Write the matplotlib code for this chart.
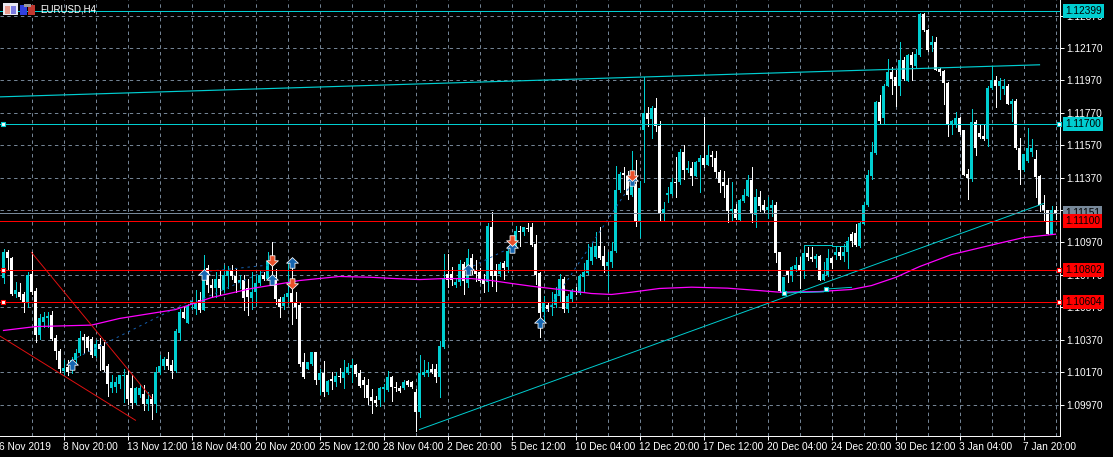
import matplotlib
matplotlib.use("Agg")
import matplotlib.pyplot as plt
from matplotlib.patches import Rectangle
import numpy as np

# candle values are points above 1.09000 (1 point = 0.00001)
base = 1.09

kinds = "".join([
    "TWWTWWTWWT", "TTWWWTWTTT", "WWWTWWWTTT", "TWWTTWTWTT", "TWWTTWTTTW",
    "TWWTWTTWWT", "WWTTTWTWWW", "TTWWWWTTWT", "WTWTWTTTWW", "WWWWTTTWWW",
    "TWWWTTTWWT", "TWWTTWTWWW", "WTWWTWTTTW", "TWWWWTWTTT", "WTTWTTTTTW",
    "WTTTTWWTWT", "TWTWWTTTWT", "WTWTTWTWWW", "WWTWTTTWTW", "WTTWWTWTTW",
    "TWWTWTTWTW", "TTWWTTTTTW", "TTWWTWTWTT", "WWTWWWWTTW", "WWTWWWTTWT",
    "TWTWWTTTWW", "WWTW"])

body_top = [
    1908,1908,1875,1675,1665,1649,1772,1778,1671,1501,
    1511,1517,1521,1381,1303,1196,1202,1243,1291,1381,
    1387,1387,1373,1346,1346,1332,1208,1106,1106,1151,
    1151,1151,1075,1073,1069,1038,1007,1007,1171,1208,
    1250,1250,1217,1422,1538,1538,1579,1608,1603,1614,
    1789,1813,1710,1747,1747,1768,1799,1799,1762,1741,
    1737,1686,1665,1717,1772,1772,1856,1861,1758,1624,
    1634,1661,1661,1599,1587,1235,1231,1293,1293,1163,
    1163,1118,1128,1143,1143,1173,1200,1217,1214,1163,
    1124,1093,1019,1000,1070,1081,1138,1138,1081,1073,
    1112,1118,1108,1046,1163,1173,1180,1190,1190,1330,
    1745,1776,1776,1729,1834,1834,1875,1875,1797,1790,
    1739,2070,2068,1797,1838,1842,1920,1951,2043,2043,
    2064,2060,2064,1961,1780,1601,1587,1587,1653,1745,
    1745,1638,1669,1673,1766,1786,1862,1941,1951,1951,
    1889,1852,1919,2296,2393,2397,2382,2331,2331,2306,
    2767,2767,2798,2798,2691,2177,2275,2345,2345,2530,
    2530,2432,2432,2469,2491,2491,2512,2512,2489,2407,
    2345,2327,2177,2177,2232,2265,2358,2358,2249,2249,
    2203,2191,2203,2203,1913,1755,1796,1817,1833,1833,
    1905,1905,1882,1889,1889,1776,1874,1874,1909,1909,
    1913,1981,2023,2027,2089,2204,2383,2531,2836,2836,
    2938,3021,3021,2990,3097,3097,3124,3124,3130,3377,
    3377,3282,3204,3204,3037,3027,2955,2722,2735,2735,
    2661,2393,2716,2716,2644,2624,2924,2975,2975,2965,
    2932,2932,2840,2840,2552,2513,2554,2554,2486,2379,
    2198,2173,2173,2173]

body_bot = [
    1752,1871,1649,1655,1634,1603,1603,1665,1402,1398,
    1480,1505,1377,1299,1188,1176,1171,1182,1243,1285,
    1367,1320,1274,1270,1315,1182,1099,1069,1079,1099,
    1147,1007,982,982,1027,976,976,976,976,1171,
    1208,1208,1176,1176,1414,1505,1476,1593,1558,1556,
    1556,1706,1686,1686,1686,1675,1764,1764,1717,1717,
    1630,1634,1630,1665,1717,1747,1743,1830,1620,1573,
    1579,1634,1603,1573,1223,1138,1190,1221,1124,1124,
    1046,1046,1114,1112,1138,1134,1165,1196,1159,1087,
    1093,1011,994,980,1000,1066,1062,1077,1070,1052,
    1073,1093,1077,922,922,1153,1163,1169,1138,1138,
    1323,1739,1741,1708,1725,1735,1720,1797,1776,1735,
    1714,1725,1766,1766,1776,1813,1821,1920,1951,2033,
    2033,2052,1957,1772,1535,1539,1560,1574,1581,1642,
    1560,1560,1618,1663,1659,1755,1780,1858,1883,1875,
    1827,1827,1847,1915,2294,2389,2265,2265,2098,2098,
    2666,2732,2732,2687,2150,2150,2265,2269,2339,2341,
    2419,2419,2382,2382,2465,2450,2450,2495,2403,2339,
    2321,2162,2162,2119,2111,2228,2259,2146,2142,2193,
    2173,2173,2183,1903,1669,1669,1771,1771,1806,1800,
    1800,1878,1868,1868,1741,1741,1771,1843,1895,1889,
    1889,1909,1978,1957,1945,2085,2198,2377,2523,2722,
    2739,2934,2980,2938,2938,2980,2969,3062,3056,3124,
    3278,3159,3185,3035,3019,2953,2698,2698,2692,2650,
    2389,2369,2363,2552,2620,2609,2609,2920,2938,2932,
    2918,2821,2821,2552,2414,2414,2472,2527,2373,2198,
    2171,2023,2023,2151]

highs = [
    1928,1922,1881,1727,1717,1665,1789,1908,1686,1531,
    1542,1542,1546,1398,1315,1243,1243,1264,1315,1422,
    1408,1394,1387,1367,1381,1357,1223,1151,1141,1155,
    1188,1182,1151,1079,1099,1089,1048,1038,1202,1274,
    1264,1295,1243,1439,1562,1573,1593,1614,1675,1665,
    1891,1830,1747,1789,1799,1830,1826,1830,1809,1768,
    1768,1747,1789,1778,1799,1789,1912,1970,1809,1634,
    1655,1850,1830,1665,1599,1289,1235,1297,1293,1190,
    1241,1124,1169,1169,1196,1245,1225,1252,1221,1180,
    1138,1128,1066,1025,1077,1097,1175,1149,1108,1087,
    1124,1124,1118,1066,1278,1245,1231,1221,1221,1365,
    1899,1899,1821,1745,1862,1848,1930,1899,1862,1813,
    1776,2089,2157,1838,1848,1858,1930,2002,2074,2074,
    2068,2089,2089,2013,1786,1642,1601,1663,1694,1776,
    1755,1653,1683,1694,1776,1842,1961,1971,2033,2064,
    1950,1909,1971,2444,2403,2438,2413,2537,2481,2351,
    2989,2808,2814,2860,2722,2222,2310,2368,2500,2547,
    2574,2475,2469,2475,2512,2742,2574,2533,2537,2419,
    2413,2366,2341,2207,2238,2300,2388,2438,2300,2290,
    2232,2249,2232,2218,1913,1755,1796,1827,1882,1878,
    1909,1944,1940,1899,1895,1852,1930,1878,1950,1940,
    1961,2002,2033,2085,2095,2218,2414,2589,2842,2877,
    2945,3103,3052,3031,3206,3113,3134,3144,3165,3385,
    3387,3284,3241,3237,3045,3031,2959,2727,2774,2743,
    2665,2424,2794,2727,2702,2702,2932,3056,2994,2986,
    2980,2949,2856,2856,2615,2517,2677,2609,2541,2383,
    2260,2173,2192,2192]

lows = [
    1717,1809,1645,1634,1624,1542,1573,1655,1357,1377,
    1449,1449,1367,1254,1171,1155,1155,1167,1223,1274,
    1285,1299,1264,1264,1182,1176,1021,1048,1048,1069,
    986,976,949,976,1017,935,935,883,921,1161,
    1192,1192,1134,1171,1367,1501,1474,1562,1531,1542,
    1552,1665,1634,1634,1655,1665,1686,1747,1665,1686,
    1552,1521,1562,1583,1706,1737,1737,1717,1593,1511,
    1562,1593,1464,1501,1208,1134,1190,1217,1097,1036,
    1025,1036,1066,1087,1108,1073,1159,1108,1149,1077,
    1019,974,916,964,964,994,1056,994,1056,1046,
    1066,1087,1073,805,896,1149,1149,1163,1108,1019,
    1317,1694,1710,1698,1710,1649,1694,1776,1731,1725,
    1663,1669,1704,1669,1766,1745,1786,1916,1947,1951,
    2013,2043,1951,1714,1389,1488,1550,1525,1574,1607,
    1539,1539,1611,1653,1653,1663,1776,1838,1875,1867,
    1786,1673,1821,1909,2279,2300,2238,2259,2074,2006,
    2341,2691,2615,2656,2111,2111,2218,2265,2253,2331,
    2362,2403,2327,2378,2284,2438,2448,2444,2376,2284,
    2253,2098,2109,2115,2109,2222,2255,2098,2064,2166,
    2150,2119,2135,1852,1662,1662,1724,1734,1792,1689,
    1751,1862,1854,1817,1739,1739,1765,1813,1868,1868,
    1858,1813,1951,1951,1941,2081,2194,2360,2517,2702,
    2706,2932,2887,2809,2877,2973,2963,2975,3052,3120,
    3274,3154,3150,3031,3006,2821,2624,2636,2685,2640,
    2383,2239,2348,2507,2615,2599,2564,2918,2805,2856,
    2887,2821,2718,2544,2328,2410,2465,2506,2249,2163,
    2105,2019,2019,2116]

ma_idx = [0,8,22,29,43,52,62,68,74,84,92,98,104,110,117,122,127,132,139,147,152,157,
          164,172,181,189,194,204,212,217,223,229,237,247,255,260,263]
ma_pts = [1427,1451,1460,1501,1556,1630,1686,1710,1735,1760,1755,1747,1741,1747,1747,1735,
          1717,1700,1680,1655,1649,1663,1686,1694,1688,1673,1663,1667,1680,1704,1754,1821,
          1895,1954,2000,2013,2021]

date_ticks = [-1,15,31,47,63,79,95,111,127,143,159,175,191,207,223,239,255]
date_labels = ["6 Nov 2019","8 Nov 20:00","13 Nov 12:00","18 Nov 04:00","20 Nov 20:00",
               "25 Nov 12:00","28 Nov 04:00","2 Dec 20:00","5 Dec 12:00","10 Dec 04:00",
               "12 Dec 20:00","17 Dec 12:00","20 Dec 04:00","24 Dec 20:00","30 Dec 12:00",
               "3 Jan 04:00","7 Jan 20:00"]
price_ticks = [1.09970,1.10170,1.10370,1.10570,1.10770,1.10970,1.11170,1.11370,1.11570,1.11770,1.11970,1.12170,1.12370]

cyan_levels = [1.12399, 1.11700]
red_levels = [1.11100, 1.10802, 1.10604]
bid_level = 1.11151

# trend lines: (index, index, points, points)
upper_channel = (-1, 259, 2868, 3066)
lower_channel = (104, 260, 816, 2210)
wedge_a = (7, 37, 1908, 1011)
wedge_b = (-1, 33, 1394, 873)
zigzags = [(17, 47, 1243, 1614), (50, 65, 1624, 1789), (50, 66, 1789, 1830),
           (116, 127, 1807, 1941), (134, 157, 1478, 2331)]
box_idx = [200, 200, 207, 207, 211, 211]
box_pts = [1900, 1955, 1955, 1946, 1946, 1990]
box_low_idx = [195, 205, 206, 212]
box_low_pts = [1658, 1665, 1683, 1693]

buy_idx = [17, 50, 67, 72, 116, 127, 134, 157]
buy_pts = [1213, 1772, 1737, 1846, 1797, 1936, 1474, 2347]
sell_idx = [67, 72, 127, 157]
sell_pts = [1861, 1721, 1986, 2388]

TEAL = "#00ced1"
GRID = "#778899"
RED = "#ff0000"
ONE_PX = 0.7
W, H = 1113, 457
px_right, px_bottom = 1060, 436
per_px = 0.002 / 32.42
FS = 7.3


def prc(p):
    return base + np.asarray(p, dtype=float) * 1e-5


fig = plt.figure(figsize=(W / 100, H / 100), dpi=100, facecolor="black")
ax = fig.add_axes([0, (H - px_bottom) / H, px_right / W, px_bottom / H], facecolor="black")
ax.set_xlim(-0.875, 264.125)
ax.set_ylim(1.12370 - (px_bottom - 15.5) * per_px, 1.12370 + 15.5 * per_px)

for s in ["top", "left"]:
    ax.spines[s].set_visible(False)
for s in ["right", "bottom"]:
    ax.spines[s].set_color("white")
    ax.spines[s].set_linewidth(ONE_PX)

ax.yaxis.tick_right()
ax.set_yticks(price_ticks, [f"{t:.5f}" for t in price_ticks])
ax.set_xticks(date_ticks[1:], [""] * (len(date_ticks) - 1))
ax.tick_params(axis="y", colors="white", length=3, width=ONE_PX, pad=1.4, labelsize=FS)
ax.tick_params(axis="x", colors="white", length=3, width=ONE_PX)
for lab in ax.get_yticklabels():
    lab.set_fontfamily("Liberation Sans")

for t, lab in zip(date_ticks, date_labels):
    ax.annotate(lab, xy=(t, 0), xycoords=ax.get_xaxis_transform(), xytext=(-0.5, -4.5), textcoords="offset points",
                ha="left", va="top", color="white", fontsize=FS, family="Liberation Sans", annotation_clip=False)

# grid
for gx in np.arange(7, 264, 8):
    ax.axvline(gx, color=GRID, lw=ONE_PX, dashes=(3.5, 3.5), zorder=1)
for t in price_ticks:
    ax.axhline(t, color=GRID, lw=ONE_PX, dashes=(3.5, 3.5), zorder=1)

# candles
idx = np.arange(len(kinds))
top = prc(body_top)
bot = prc(body_bot)
colors = [TEAL if k == "T" else "white" for k in kinds]
ax.vlines(idx, prc(lows), prc(highs), colors=colors, lw=ONE_PX, zorder=3, antialiased=False)
ax.bar(idx, np.maximum(top - bot, per_px), bottom=bot, width=0.78, color=colors, lw=0, zorder=3, antialiased=False)

# indicator
ax.plot(ma_idx, prc(ma_pts), color="#ff00ff", lw=0.9, zorder=4)

# drawn objects
ax.plot(upper_channel[:2], prc(upper_channel[2:]), color=TEAL, lw=0.85, zorder=5)
ax.plot(lower_channel[:2], prc(lower_channel[2:]), color=TEAL, lw=ONE_PX, zorder=5)
for a, b, p, q in [wedge_a, wedge_b]:
    ax.plot([a, b], prc([p, q]), color="#e01010", lw=ONE_PX, zorder=5)
for a, b, p, q in zigzags:
    ax.plot([a, b], prc([p, q]), color="#1560b0", lw=ONE_PX, dashes=(2.5, 4), zorder=5)
ax.plot(box_idx, prc(box_pts), color=TEAL, lw=ONE_PX, zorder=5)
ax.plot(box_low_idx, prc(box_low_pts), color=TEAL, lw=ONE_PX, zorder=5)

for lv in cyan_levels:
    ax.axhline(lv, color=TEAL, lw=ONE_PX, zorder=5, antialiased=False)
for lv in red_levels:
    ax.axhline(lv, color=RED, lw=ONE_PX, zorder=5, antialiased=False)
ax.axhline(bid_level, color=GRID, lw=ONE_PX, zorder=5, antialiased=False)

# order arrows
up_arrow = [(0, 1), (1, 0.05), (0.42, 0.05), (0.42, -0.8), (-0.42, -0.8), (-0.42, 0.05), (-1, 0.05), (0, 1)]
down_arrow = [(x, -y) for x, y in up_arrow]
ax.plot(buy_idx, prc(buy_pts), ls="", marker=up_arrow, ms=8.5, mfc="#1565b0", mec="white", mew=0.55, zorder=6)
ax.plot(sell_idx, prc(sell_pts), ls="", marker=down_arrow, ms=8.5, mfc="#e8502a", mec="white", mew=0.55, zorder=6)

# line handles
for lv, c in [(1.11700, TEAL), (1.10802, RED), (1.10604, RED)]:
    ax.scatter([-0.25, 263.75], [lv, lv], marker="s", s=10, c="white", edgecolors=c, linewidths=0.8, zorder=7, clip_on=False)
ax.scatter([195, 205.5], prc([1658, 1683]), marker="s", s=10, c="white", edgecolors=TEAL, linewidths=0.8, zorder=7)

# price tags on the right axis
for lv, c in [(1.12399, TEAL), (1.11700, TEAL), (bid_level, GRID), (1.11100, RED),
              (1.10802, RED), (1.10604, RED)]:
    ax.annotate(f"{lv:.5f}", xy=(1, lv), xycoords=ax.get_yaxis_transform(), xytext=(3.8, 0), textcoords="offset points",
                ha="left", va="center", color="black", fontsize=FS, family="Liberation Sans", annotation_clip=False, zorder=9,
                bbox=dict(boxstyle="square,pad=0.2", fc=c, ec="none"))

# title and toolbar icons
fig.text(40.5 / W, 1 - 9.5 / H, "EURUSD,H4", color="white", fontsize=7, family="Liberation Sans", va="center", ha="left")
icons = [(3, 3, 15, 12, "#e8e8f0"), (5, 6, 5, 8, "#e89a8c"), (11, 6, 5, 8, "#7a7ae0"),
         (20, 5, 7, 10, "#3040e0"), (28, 5, 7, 10, "#c03830"), (24, 4, 7, 3, "#9a9a9a")]
for x0, y0, w, h, c in icons:
    fig.add_artist(Rectangle((x0 / W, 1 - (y0 + h) / H), w / W, h / H, transform=fig.transFigure, fc=c, ec="none"))

fig.savefig("out.png", dpi=100, facecolor="black")
